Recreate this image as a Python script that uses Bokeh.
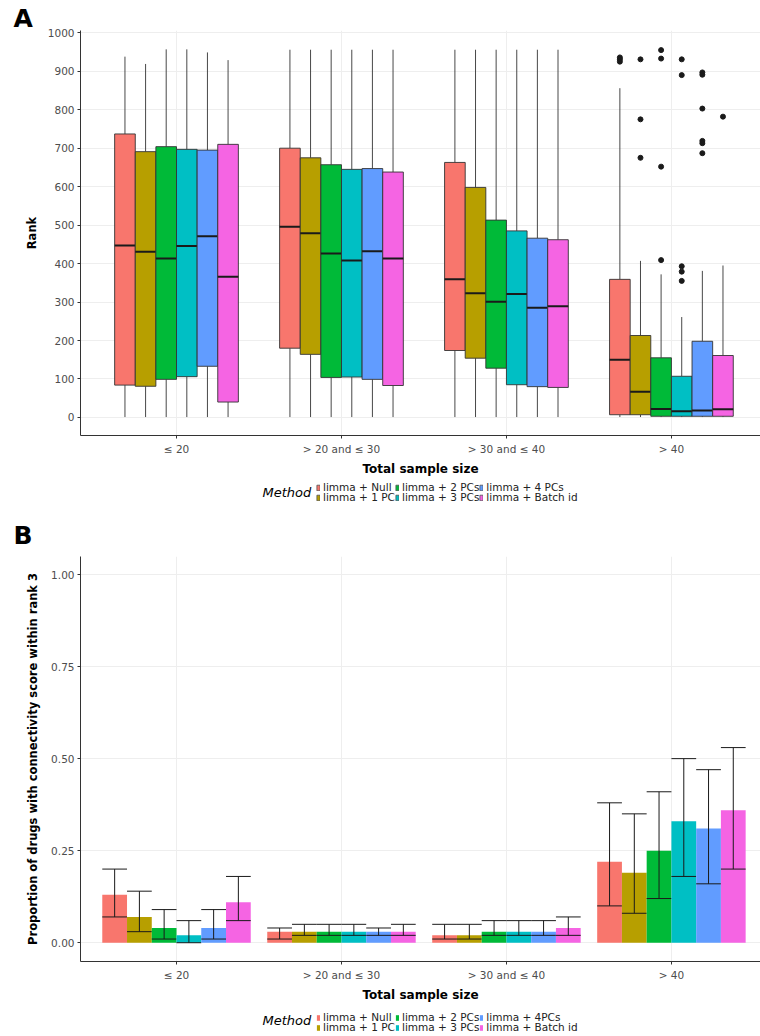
from bokeh.plotting import figure
from bokeh.models import (ColumnDataSource, FixedTicker, Legend, LegendItem, Title, Label,
                          Range1d, NumeralTickFormatter)
from bokeh.layouts import column
from bokeh.embed import file_html
from bokeh.resources import INLINE

# ---------------- data ----------------
size_groups = ["≤ 20", "> 20 and ≤ 30", "> 30 and ≤ 40", "> 40"]
methods_a = ["limma + Null", "limma + 1 PC", "limma + 2 PCs",
             "limma + 3 PCs", "limma + 4 PCs", "limma + Batch id"]
methods_b = ["limma + Null", "limma + 1 PC", "limma + 2 PCs",
             "limma + 3 PCs", "limma + 4PCs", "limma + Batch id"]
colors = ["#F8766D", "#B79F00", "#00BA38", "#00BFC4", "#619CFF", "#F564E3"]

# Panel A: rank box statistics; rows = size groups, columns = methods
rank_whisker_low = [[1, 1, 1, 1, 1, 1],
                    [1, 1, 1, 1, 1, 1],
                    [1, 1, 1, 1, 1, 1],
                    [1, 1, 1, 1, 1, 1]]
rank_q1 = [[84, 81, 99, 106, 133, 40],
           [180, 164, 104, 105, 99, 83],
           [174, 154, 128, 85, 80, 78],
           [7, 7, 3, 3, 3, 3]]
rank_median = [[447, 431, 413, 446, 471, 366],
               [496, 479, 426, 408, 432, 413],
               [359, 323, 301, 321, 285, 289],
               [150, 67, 22, 16, 18, 21]]
rank_q3 = [[737, 691, 704, 697, 695, 710],
           [700, 675, 657, 645, 647, 638],
           [663, 598, 513, 485, 466, 462],
           [359, 213, 155, 107, 198, 161]]
rank_whisker_high = [[938, 919, 957, 957, 949, 929],
                     [956, 956, 956, 956, 956, 956],
                     [956, 956, 956, 956, 956, 956],
                     [856, 407, 372, 261, 381, 395]]
# outliers (only in the "> 40" group), one list per method
rank_outliers_gt40 = [[936, 931, 925],
                      [931, 775, 675],
                      [955, 933, 652, 409],
                      [931, 890, 393, 379, 355],
                      [897, 891, 803, 719, 713, 687],
                      [782]]

# Panel B: proportion within rank 3 with confidence interval
prop = [[0.13, 0.07, 0.04, 0.02, 0.04, 0.11],
        [0.03, 0.03, 0.03, 0.03, 0.03, 0.03],
        [0.02, 0.02, 0.03, 0.03, 0.03, 0.04],
        [0.22, 0.19, 0.25, 0.33, 0.31, 0.36]]
prop_lo = [[0.07, 0.03, 0.01, 0.00, 0.01, 0.06],
           [0.01, 0.02, 0.02, 0.02, 0.02, 0.02],
           [0.01, 0.01, 0.02, 0.02, 0.02, 0.02],
           [0.10, 0.08, 0.12, 0.18, 0.16, 0.20]]
prop_hi = [[0.20, 0.14, 0.09, 0.06, 0.09, 0.18],
           [0.04, 0.05, 0.05, 0.05, 0.04, 0.05],
           [0.05, 0.05, 0.06, 0.06, 0.06, 0.07],
           [0.38, 0.35, 0.41, 0.50, 0.47, 0.53]]

FONT = "DejaVu Sans"
NG = len(size_groups)
NM = len(methods_a)


def base_fig(height, top_border, y0, y1, yticks, letter, letter_standoff):
    p = figure(width=760, height=height, x_range=Range1d(0.418, 4.54),
               y_range=Range1d(y0, y1), output_backend="svg",
               toolbar_location=None, min_border_left=80, min_border_right=0,
               min_border_top=top_border, min_border_bottom=38)
    p.title = Title(text=letter, align="left", offset=-67, vertical_align="bottom",
                    text_font=FONT, text_font_style="bold",
                    text_font_size="25px", text_color="#000000",
                    standoff=letter_standoff)
    p.outline_line_color = None
    p.background_fill_color = "white"
    p.border_fill_color = "white"
    p.xaxis.ticker = FixedTicker(ticks=[1, 2, 3, 4])
    p.xaxis.major_label_overrides = {i + 1: s for i, s in enumerate(size_groups)}
    p.yaxis.ticker = FixedTicker(ticks=yticks)
    p.xgrid.ticker = FixedTicker(ticks=[1, 2, 3, 4])
    p.ygrid.ticker = FixedTicker(ticks=yticks)
    p.grid.grid_line_color = "#EEEEEE"
    p.grid.grid_line_width = 1
    for ax in (p.xaxis, p.yaxis):
        ax.axis_line_color = "#333333"
        ax.axis_line_width = 1
        ax.major_tick_line_color = "#333333"
        ax.major_tick_out = 3
        ax.major_tick_in = 0
        ax.minor_tick_out = 0
        ax.minor_tick_in = 0
        ax.major_label_text_font = FONT
        ax.major_label_text_font_size = "10.5px"
        ax.major_label_text_color = "#4D4D4D"
        ax.axis_label_text_font = FONT
        ax.axis_label_text_font_style = "bold"
        ax.axis_label_text_color = "#000000"
    p.xaxis.major_label_standoff = 4
    p.yaxis.major_label_standoff = 3
    p.xaxis.axis_label_text_font_size = "12px"
    p.yaxis.axis_label_text_font_size = "11.5px"
    p.xaxis.axis_label_standoff = 4
    p.yaxis.axis_label_standoff = 6
    p.xaxis.axis_label = "Total sample size"
    return p


def legend_fig(height, kind, labels, row_y, method_y):
    """A strip below a panel that carries its 'Method' legend (two rows x three columns).
    Its frame is aligned with the panel's frame (left edge at 80 px)."""
    lf = figure(width=760, height=height, x_range=Range1d(0, 1), y_range=Range1d(0, 1),
                output_backend="svg", toolbar_location=None,
                x_axis_location=None, y_axis_location=None,
                min_border_left=0, min_border_right=0, min_border_top=0,
                min_border_bottom=0)
    lf.grid.visible = False
    lf.outline_line_color = None
    lf.background_fill_color = "white"
    lf.border_fill_color = "white"
    # legend-only key renderers: their single entry lies outside the strip's range
    key_src = ColumnDataSource(dict(x=[-5.0], bottom=[-5.0], top=[-4.0]))
    rends = []
    for j in range(NM):
        if kind == "box":
            r = lf.vbar(x="x", bottom="bottom", top="top", width=0.1, source=key_src,
                        fill_color=colors[j], line_color="#555555", line_width=0.8)
        else:
            r = lf.vbar(x="x", bottom="bottom", top="top", width=0.1, source=key_src,
                        fill_color=colors[j], line_color=None)
        rends.append(r)
    rows = [(0, 2, 4), (1, 3, 5)]
    for row, yy in zip(rows, row_y):
        items = [LegendItem(label=labels[j], renderers=[rends[j]]) for j in row]
        lg = Legend(items=items, orientation="horizontal", location=(236, yy),
                    padding=0, margin=0, spacing=0, border_line_color=None,
                    background_fill_alpha=0, glyph_width=4, glyph_height=7,
                    label_standoff=3, label_width=72, label_height=10,
                    label_text_font=FONT, label_text_font_size="10.5px",
                    label_text_color="#222222")
        lf.add_layout(lg, "center")
    lf.add_layout(Label(x=182, y=method_y, x_units="screen", y_units="screen",
                        text="Method", text_font=FONT, text_font_style="italic",
                        text_font_size="13px", text_baseline="middle",
                        text_color="#000000"))
    return lf


# ---------------- panel A ----------------
pa = base_fig(478, 30, -47, 1006, list(range(0, 1001, 100)), "A", -5)
pa.yaxis.axis_label = "Rank"
bw = 0.75 / NM
for j in range(NM):
    xs = [g + 1 + (j - (NM - 1) / 2) * bw for g in range(NG)]
    src = ColumnDataSource(dict(
        x=xs,
        lo=[rank_whisker_low[g][j] for g in range(NG)],
        q1=[rank_q1[g][j] for g in range(NG)],
        med=[rank_median[g][j] for g in range(NG)],
        q3=[rank_q3[g][j] for g in range(NG)],
        hi=[rank_whisker_high[g][j] for g in range(NG)],
        xl=[x - bw / 2 for x in xs],
        xr=[x + bw / 2 for x in xs],
    ))
    pa.segment(x0="x", x1="x", y0="q3", y1="hi", source=src,
               line_color="#333333", line_width=0.9)
    pa.segment(x0="x", x1="x", y0="q1", y1="lo", source=src,
               line_color="#333333", line_width=0.9)
    pa.vbar(x="x", width=bw, bottom="q1", top="q3", source=src,
            fill_color=colors[j], line_color="#333333", line_width=0.9)
    pa.segment(x0="xl", x1="xr", y0="med", y1="med", source=src,
               line_color="#1A1A1A", line_width=2)
    outs = rank_outliers_gt40[j]
    osrc = ColumnDataSource(dict(x=[xs[3]] * len(outs), y=outs))
    pa.scatter(x="x", y="y", source=osrc, size=5, fill_color="#1A1A1A",
               line_color="#1A1A1A")

la = legend_fig(32, "box", methods_a, (17, 7), 18)

# ---------------- panel B ----------------
pb = base_fig(494, 46, -0.051, 1.049, [0, 0.25, 0.5, 0.75, 1.0], "B", 13)
pb.yaxis.formatter = NumeralTickFormatter(format="0.00")
pb.yaxis.axis_label = "Proportion of drugs with connectivity score within rank 3"
pb.yaxis.axis_label_standoff = 8
bwb = 0.9 / NM
for j in range(NM):
    xs = [g + 1 + (j - (NM - 1) / 2) * bwb for g in range(NG)]
    src = ColumnDataSource(dict(
        x=xs,
        v=[prop[g][j] for g in range(NG)],
        lo=[prop_lo[g][j] for g in range(NG)],
        hi=[prop_hi[g][j] for g in range(NG)],
        xl=[x - bwb / 2 for x in xs],
        xr=[x + bwb / 2 for x in xs],
    ))
    pb.vbar(x="x", width=bwb, bottom=0, top="v", source=src,
            fill_color=colors[j], line_color=None)
    pb.segment(x0="x", x1="x", y0="lo", y1="hi", source=src,
               line_color="#1A1A1A", line_width=1)
    pb.segment(x0="xl", x1="xr", y0="lo", y1="lo", source=src,
               line_color="#1A1A1A", line_width=1)
    pb.segment(x0="xl", x1="xr", y0="hi", y1="hi", source=src,
               line_color="#1A1A1A", line_width=1)

lb = legend_fig(32, "bar", methods_b, (13, 3), 16)

layout = column(pa, la, pb, lb, spacing=0)
open("out.html", "w").write(file_html(layout, INLINE))
